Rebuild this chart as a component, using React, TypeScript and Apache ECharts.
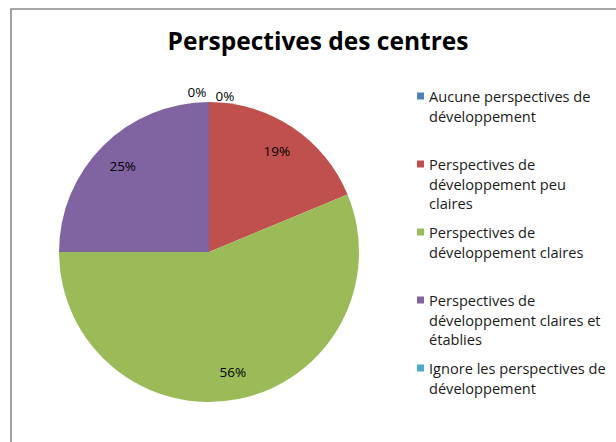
import React, { useEffect, useRef } from "react";
import * as echarts from "echarts";

const titleText = "Perspectives des centres";
const categories = [
  "Aucune perspectives de développement",
  "Perspectives de développement peu claires",
  "Perspectives de développement claires",
  "Perspectives de développement claires et établies",
  "Ignore les perspectives de développement",
];
const legendLabels = [
  "Aucune perspectives de\ndéveloppement",
  "Perspectives de\ndéveloppement peu\nclaires",
  "Perspectives de\ndéveloppement claires",
  "Perspectives de\ndéveloppement claires et\nétablies",
  "Ignore les perspectives de\ndéveloppement",
];
const counts = [0, 3, 9, 4, 0];
const colors = ["#4F81BD", "#C0504D", "#9BBB59", "#8064A2", "#4BACC6"];

const FONT = "'Open Sans', 'Noto Sans', sans-serif";
const LH = 19.5;
const firstLineY = [96, 164, 232, 300, 368];

export default function App() {
  const ref = useRef<HTMLDivElement>(null);
  useEffect(() => {
    if (!ref.current) return;
    const chart = echarts.init(ref.current, null, { renderer: "svg" });

    const legends = categories.map((name, i) => {
      const n = legendLabels[i].split("\n").length;
      // leading blank lines keep the first line level with the icon
      const padded = "\n".repeat(n - 1) + legendLabels[i];
      return {
        orient: "vertical",
        left: 417,
        top: firstLineY[i] - ((2 * n - 1) * LH) / 2,
        padding: 0,
        itemWidth: 7,
        itemHeight: 7,
        icon: "rect",
        selectedMode: false,
        data: [name],
        formatter: () => padded,
        textStyle: {
          fontFamily: FONT,
          fontSize: 14.6,
          color: "#1a1a1a",
          lineHeight: LH,
        },
      };
    });

    const center = [209, 252];
    const R = 150;
    const labelFont = { fontFamily: FONT, fontSize: 13.5, color: "#000" };

    chart.setOption({
      animation: false,
      color: colors,
      title: {
        text: titleText,
        left: 318,
        top: 25,
        padding: 0,
        textAlign: "center",
        textStyle: {
          fontFamily: FONT,
          fontWeight: "bold",
          fontSize: 24.5,
          color: "#000",
          lineHeight: 30,
        },
      },
      legend: legends,
      graphic: [
        {
          type: "rect",
          shape: { x: 11, y: 9, width: 700, height: 500 },
          style: { fill: "none", stroke: "#8a8a8a", lineWidth: 1.6 },
          silent: true,
        },
      ],
      series: [
        {
          type: "pie",
          name: "visible",
          center,
          radius: [0, R],
          startAngle: 90,
          clockwise: true,
          label: { show: false },
          labelLine: { show: false },
          itemStyle: { borderWidth: 0 },
          emphasis: { disabled: true },
          data: categories.map((name, i) => ({ name, value: counts[i] })),
        },
        {
          type: "pie",
          name: "labels",
          center,
          radius: [88, R],
          startAngle: 90,
          clockwise: true,
          silent: true,
          percentPrecision: 0,
          avoidLabelOverlap: false,
          itemStyle: { color: "rgba(0,0,0,0)", borderWidth: 0 },
          emphasis: { disabled: true },
          labelLine: { show: false },
          label: { show: true, position: "inside", formatter: "{d}%", ...labelFont },
          data: categories.map((name, i) => ({
            name,
            value: counts[i],
            label: { show: counts[i] !== 0 },
          })),
        },
        {
          type: "pie",
          name: "zeroLabels",
          center,
          radius: [R, R + 14],
          startAngle: 90,
          clockwise: true,
          silent: true,
          percentPrecision: 0,
          avoidLabelOverlap: false,
          itemStyle: { color: "rgba(0,0,0,0)", borderWidth: 0 },
          emphasis: { disabled: true },
          labelLine: { show: false },
          label: { show: true, position: "inside", formatter: "{d}%", ...labelFont },
          labelLayout: (p: any) =>
            p.dataIndex === 0 ? { dx: 16, dy: 4 } : { dx: -12, dy: 0 },
          data: categories.map((name, i) => ({
            name,
            value: counts[i],
            label: { show: counts[i] === 0 },
          })),
        },
      ],
    });
    return () => chart.dispose();
  }, []);
  return (
    <div
      ref={ref}
      style={{ position: "absolute", left: 0, top: 0, width: 616, height: 442, background: "#fff" }}
    />
  );
}
